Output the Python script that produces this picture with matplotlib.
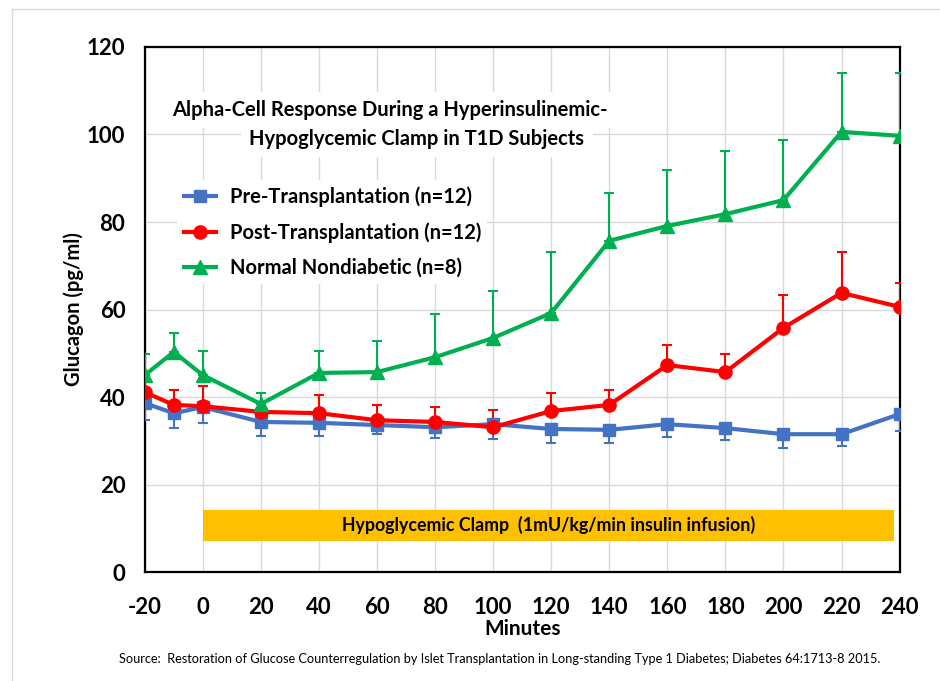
import matplotlib
matplotlib.use("Agg")
import matplotlib.pyplot as plt
from matplotlib.lines import Line2D

plt.rcParams['font.family'] = ['Lato', 'DejaVu Sans']
plt.rcParams['axes.unicode_minus'] = False

# ============================================================
# DATA
# ============================================================
minutes = [-20, -10, 0, 20, 40, 60, 80, 100, 120, 140, 160, 180, 200, 220, 240]

pre_tx = [38.6, 36.3, 37.7, 34.3, 34.1, 33.6, 33.1, 33.8, 32.7, 32.5, 33.8, 32.9, 31.5, 31.5, 36.1]
pre_tx_low = [34.7, 32.9, 34.0, 31.1, 31.1, 31.5, 30.6, 30.4, 29.5, 29.5, 30.8, 30.2, 28.3, 28.8, 32.2]

post_tx = [41.1, 38.2, 37.9, 36.6, 36.3, 34.7, 34.3, 33.1, 36.8, 38.2, 47.3, 45.7, 55.8, 63.8, 60.6]
post_tx_high = [44.0, 41.6, 42.5, 38.5, 40.5, 38.2, 37.7, 37.0, 40.9, 41.6, 51.9, 49.8, 63.3, 73.1, 66.1]

normal = [45.0, 50.3, 45.0, 38.4, 45.5, 45.7, 49.1, 53.5, 59.2, 75.7, 79.1, 81.8, 85.0, 100.6, 99.7]
normal_high = [49.8, 54.6, 50.5, 41.0, 50.5, 52.8, 59.0, 64.2, 73.1, 86.6, 91.9, 96.2, 98.7, 114.0, 114.0]

labels = ["Pre-Transplantation (n=12)", "Post-Transplantation (n=12)", "Normal Nondiabetic (n=8)"]
title_lines = ["Alpha-Cell Response During a Hyperinsulinemic-", "Hypoglycemic Clamp in T1D Subjects"]
clamp_start, clamp_end = 0, 238
clamp_low, clamp_high = 7.1, 14.2

BLUE = "#4472C4"
RED = "#FF0000"
GREEN = "#00B050"
ORANGE = "#FFC000"

# ============================================================
# PLOT
# ============================================================
fig = plt.figure(figsize=(9.4, 6.81), dpi=100)
ax = fig.add_axes([0.154, 0.160, 0.803, 0.771])

# slide frame lines
fig.add_artist(Line2D([12 / 940, 1.0], [1 - 9 / 681, 1 - 9 / 681], color="#d9d9d9", lw=1))
fig.add_artist(Line2D([12 / 940, 12 / 940], [0, 1 - 9 / 681], color="#d9d9d9", lw=1))

# clamp bar
ax.barh((clamp_low + clamp_high) / 2, clamp_end - clamp_start, left=clamp_start,
        height=clamp_high - clamp_low, color=ORANGE, zorder=2)
ax.text((clamp_start + clamp_end) / 2, (clamp_low + clamp_high) / 2,
        "Hypoglycemic Clamp  (1mU/kg/min insulin infusion)",
        ha="center", va="center", fontsize=12.8, fontweight="bold", zorder=3)

# error bars
lo = [m - l for m, l in zip(pre_tx, pre_tx_low)]
ax.errorbar(minutes, pre_tx, yerr=[lo, [0] * len(lo)], fmt="none", ecolor=BLUE,
            elinewidth=1.5, capsize=3.5, capthick=1.5, zorder=3)
hi = [h - m for m, h in zip(post_tx, post_tx_high)]
ax.errorbar(minutes, post_tx, yerr=[[0] * len(hi), hi], fmt="none", ecolor=RED,
            elinewidth=1.5, capsize=3.5, capthick=1.5, zorder=3)
hi = [h - m for m, h in zip(normal, normal_high)]
ax.errorbar(minutes, normal, yerr=[[0] * len(hi), hi], fmt="none", ecolor=GREEN,
            elinewidth=1.5, capsize=3.5, capthick=1.5, zorder=3)

# lines
ax.plot(minutes, pre_tx, color=BLUE, lw=3, marker="s", ms=8, zorder=4)
ax.plot(minutes, post_tx, color=RED, lw=3, marker="o", ms=9.5, zorder=5)
ax.plot(minutes, normal, color=GREEN, lw=3, marker="^", ms=10, zorder=6)

# ============================================================
# STYLE
# ============================================================
ax.set_xlim(-20, 240)
ax.set_ylim(0, 120)
ax.set_xticks(range(-20, 241, 20))
ax.set_yticks(range(0, 121, 20))
ax.grid(True, color="#d9d9d9", lw=1, zorder=0)
ax.set_axisbelow(True)
ax.tick_params(length=0, labelsize=16)
ax.tick_params(axis="x", pad=18)
ax.tick_params(axis="y", pad=14)
for lab in ax.get_xticklabels() + ax.get_yticklabels():
    lab.set_fontweight("bold")
for sp in ax.spines.values():
    sp.set_linewidth(1.6)
    sp.set_color("black")

ax.set_xlabel("Minutes", fontsize=15, fontweight="bold", labelpad=1)
ax.set_ylabel("Glucagon (pg/ml)", fontsize=14.5, fontweight="bold", labelpad=2)

# boxed title inside the plot
ax.text(64.4, 105.6, title_lines[0], ha="center", va="center", fontsize=14.5,
        fontweight="bold", bbox=dict(facecolor="white", edgecolor="none", pad=6), zorder=7)
ax.text(73.7, 99.0, title_lines[1], ha="center", va="center", fontsize=14.5,
        fontweight="bold", bbox=dict(facecolor="white", edgecolor="none", pad=6), zorder=7)

handles = [
    Line2D([], [], color=BLUE, lw=3, marker="s", ms=8),
    Line2D([], [], color=RED, lw=3, marker="o", ms=9.5),
    Line2D([], [], color=GREEN, lw=3, marker="^", ms=10),
]
leg = ax.legend(handles, labels, loc="upper left", bbox_to_anchor=(0.03, 0.765),
                frameon=True, facecolor="white", edgecolor="none", framealpha=1,
                fontsize=14.5, handlelength=1.6, handletextpad=0.7, labelspacing=0.75,
                borderpad=0.3)
for t in leg.get_texts():
    t.set_fontweight("bold")
leg.set_zorder(7)

fig.text(0.532, 1 - 659 / 681,
         "Source:  Restoration of Glucose Counterregulation by Islet Transplantation in Long-standing Type 1 Diabetes; Diabetes 64:1713-8 2015.",
         ha="center", va="center", fontsize=9.2)

fig.savefig("out.png", dpi=100)
